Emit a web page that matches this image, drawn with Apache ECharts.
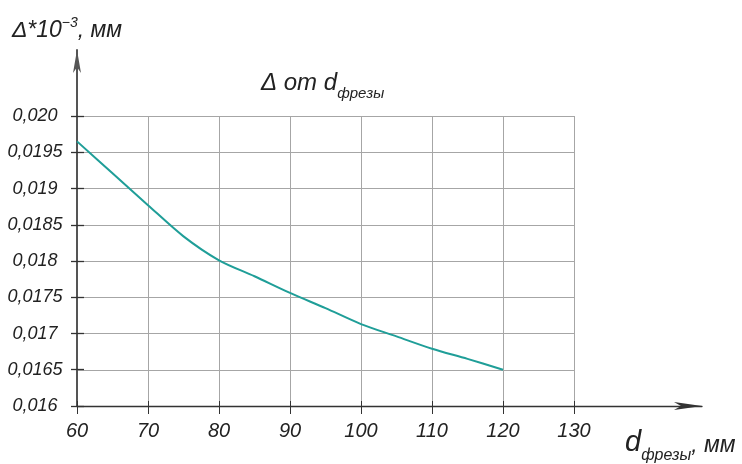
<!DOCTYPE html>
<html>
<head>
<meta charset="utf-8">
<script src="https://cdn.jsdelivr.net/npm/echarts@6/dist/echarts.min.js"></script>
<style>
html,body{margin:0;padding:0;background:#fff;}
#chart{width:742px;height:464px;}
</style>
</head>
<body>
<div id="chart"></div>
<script>
// ---- data ----
const xValues = [60, 65, 70, 75, 80, 85, 90, 95, 100, 105, 110, 115, 120];
const deltaValues = [0.01965, 0.01921, 0.01877, 0.01834, 0.01801, 0.01779, 0.01756, 0.01735, 0.01713, 0.01696, 0.01679, 0.01665, 0.01650];
const xTickLabels = ['60', '70', '80', '90', '100', '110', '120', '130'];
const yTickLabels = ['0,016', '0,0165', '0,017', '0,0175', '0,018', '0,0185', '0,019', '0,0195', '0,020'];

const FONT = "'Liberation Sans','Noto Sans',sans-serif";
const TXT = '#222';
const X_MIN = 60, X_STEP = 10, X_MAX = 130;
const Y_MIN = 0.016, Y_STEP = 0.0005, Y_MAX = 0.020;

const seriesData = xValues.map((x, i) => [x, deltaValues[i]]);

const chart = echarts.init(document.getElementById('chart'), null, {renderer: 'canvas'});

const grid0 = {left: 77, right: 168, top: 116, bottom: 58};
const grid1 = {left: 77, right: 40, top: 50, bottom: 58};

const txt = (size, extra) => Object.assign({fontFamily: FONT, fontStyle: 'italic', fontWeight: 'normal', fontSize: size, color: TXT}, extra || {});

const option = {
  backgroundColor: '#fff',
  animation: false,
  title: {
    text: '{a|Δ от d}{s|фрезы}',
    left: 256,
    top: 66,
    textStyle: {
      fontWeight: 'normal',
      rich: {
        a: txt(24, {verticalAlign: 'bottom', padding: [0, 0, 6, 0]}),
        s: txt(15, {verticalAlign: 'bottom'})
      }
    }
  },
  grid: [
    Object.assign({containLabel: false, outerBoundsMode: 'none'}, grid0),
    Object.assign({containLabel: false, outerBoundsMode: 'none'}, grid1)
  ],
  xAxis: [
    {
      type: 'value', gridIndex: 0, position: 'bottom', min: X_MIN, max: X_MAX, interval: X_STEP,
      axisLine: {show: false},
      axisTick: {show: true, length: 8, lineStyle: {color: '#333', width: 1}},
      axisLabel: Object.assign(txt(20), {
        show: true, margin: 15,
        formatter: v => xTickLabels[Math.round((v - X_MIN) / X_STEP)]
      }),
      splitLine: {show: true, lineStyle: {color: '#a6a6a6', width: 1}}
    },
    {
      type: 'value', gridIndex: 1, position: 'bottom', min: 0, max: 1,
      axisLine: {show: true, symbol: ['none', 'arrow'], symbolSize: [6, 28], lineStyle: {color: '#333', width: 1.3}},
      axisTick: {show: false}, axisLabel: {show: false}, splitLine: {show: false},
      name: '{d|d}{s|фрезы}{m|, мм}',
      nameLocation: 'end',
      nameGap: -77,
      nameTextStyle: {
        align: 'left', verticalAlign: 'top', padding: [22, 0, 0, 0],
        rich: {
          d: txt(29, {verticalAlign: 'bottom', padding: [0, 0, 7, 0]}),
          s: txt(16, {verticalAlign: 'bottom'}),
          m: txt(23, {verticalAlign: 'bottom', padding: [0, 0, 7, 0]})
        }
      }
    },
    {
      type: 'value', gridIndex: 0, position: 'bottom', offset: 0, min: X_MIN, max: X_MAX, interval: X_STEP,
      axisLine: {show: false},
      axisTick: {show: true, inside: true, length: 5, lineStyle: {color: '#333', width: 1}},
      axisLabel: {show: false}, splitLine: {show: false}
    }
  ],
  yAxis: [
    {
      type: 'value', gridIndex: 0, position: 'left', min: Y_MIN, max: Y_MAX, interval: Y_STEP,
      axisLine: {show: false},
      axisTick: {show: true, length: 6, lineStyle: {color: '#333', width: 1.3}},
      axisLabel: Object.assign(txt(18), {
        show: true, margin: 42, align: 'center',
        formatter: v => yTickLabels[Math.round((v - Y_MIN) / Y_STEP)]
      }),
      splitLine: {show: true, lineStyle: {color: '#a6a6a6', width: 1}}
    },
    {
      type: 'value', gridIndex: 1, position: 'left', min: 0, max: 1,
      axisLine: {show: true, symbol: ['none', 'arrow'], symbolSize: [6, 23], lineStyle: {color: '#555', width: 2}},
      axisTick: {show: false}, axisLabel: {show: false}, splitLine: {show: false},
      name: '{a|Δ*10}{p|−3}{b|, мм}',
      nameLocation: 'end',
      nameGap: 8,
      nameTextStyle: {
        align: 'center', padding: [0, 20, 0, 0],
        rich: {
          a: txt(23, {verticalAlign: 'bottom'}),
          p: txt(14, {verticalAlign: 'bottom', padding: [0, 0, 12, 0]}),
          b: txt(23, {verticalAlign: 'bottom'})
        }
      }
    },
    {
      type: 'value', gridIndex: 0, position: 'left', offset: 0, min: Y_MIN, max: Y_MAX, interval: Y_STEP,
      axisLine: {show: false},
      axisTick: {show: true, inside: true, length: 7, lineStyle: {color: '#333', width: 1.3}},
      axisLabel: {show: false}, splitLine: {show: false}
    }
  ],
  series: [
    {
      type: 'line',
      xAxisIndex: 0, yAxisIndex: 0,
      data: seriesData,
      smooth: 0.3,
      showSymbol: false,
      lineStyle: {color: '#1f9e98', width: 2},
      z: 5
    }
  ]
};
chart.setOption(option);
</script>
</body>
</html>
